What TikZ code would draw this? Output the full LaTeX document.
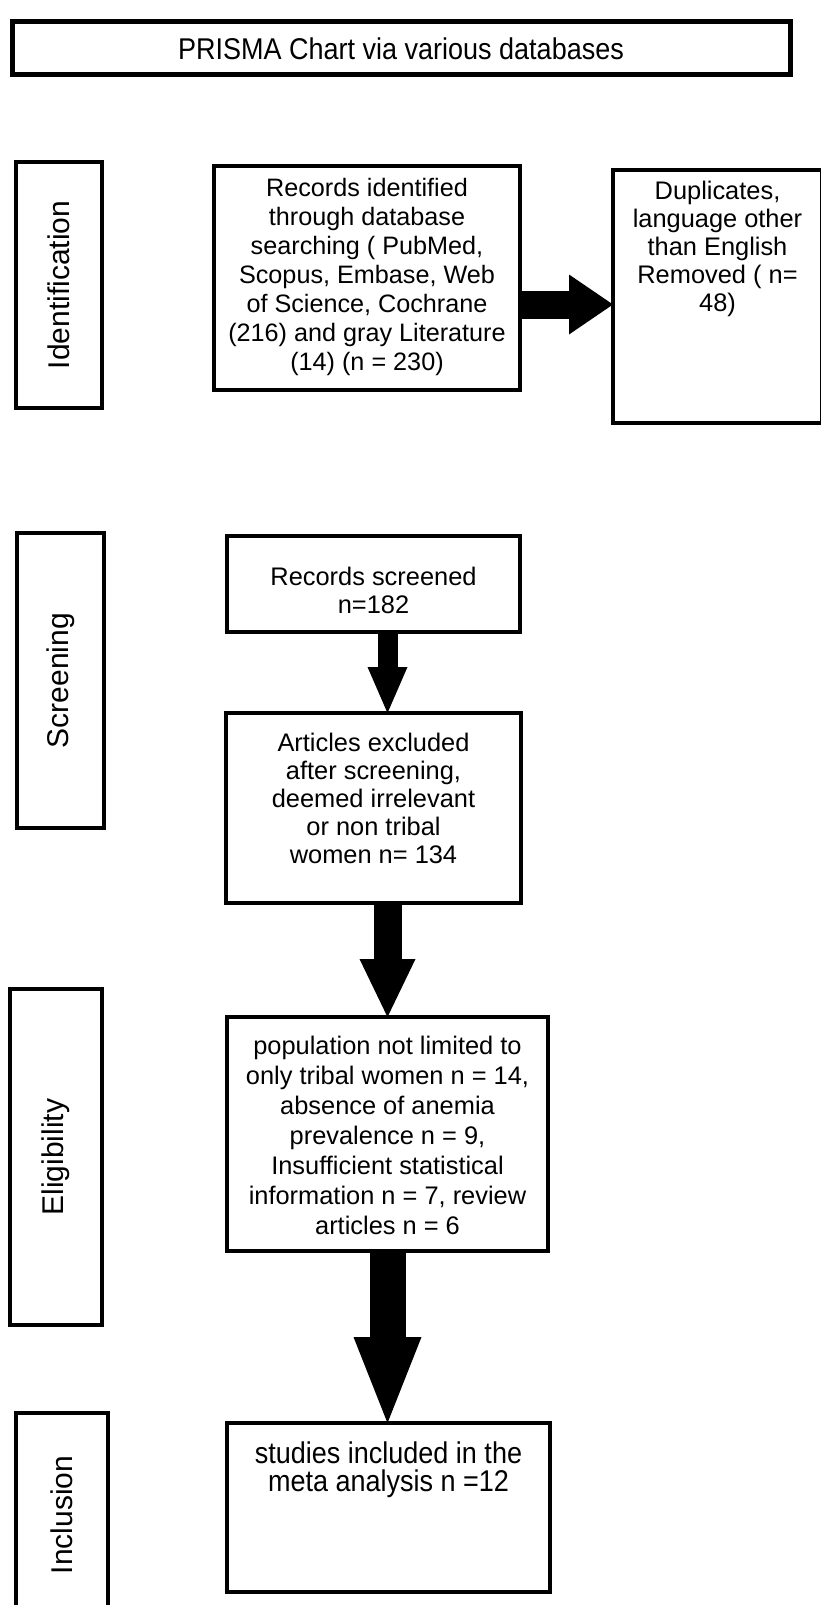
\documentclass[tikz,border=0pt]{standalone}
\usepackage{fontspec}
\setmainfont{Liberation Sans}
\newfontfamily\narrowfont[FakeStretch=0.9]{Liberation Sans}
\usetikzlibrary{arrows.meta,positioning}

\begin{document}
\begin{tikzpicture}[
  x=0.5pt, y=-0.5pt,
  every node/.style={font=\fontsize{12.7}{14}\selectfont},
  box/.style={draw=black, line width=2pt, outer sep=0pt, inner sep=0pt},
  phase/.style={draw=black, line width=2pt, outer sep=0pt, inner sep=0pt, rotate=90, font=\fontsize{15}{18}\selectfont},
  txt/.style={align=center, inner sep=0pt},
  blockarr/.style n args={3}{line width=#1, -{Triangle[width=#2, length=#3, line width=0pt]}}
]
\useasboundingbox (0,0) rectangle (820,1605);

% title
\node[box, line width=2.5pt, minimum width=389pt, minimum height=26.5pt, font=\narrowfont\fontsize{15}{18}\selectfont] (title) at (401,48.5) {PRISMA Chart via various databases};

% phases on the left
\node[phase, minimum width=123pt, minimum height=43pt] (ident) at (59,285) {Identification};
\node[phase, minimum width=147.5pt, minimum height=43.5pt] (screen) at (60.5,680.5) {Screening};
\node[phase, minimum width=168pt, minimum height=46pt] (elig) at (56,1157) {Eligibility};
\node[phase, minimum width=102pt, minimum height=46pt] (incl) at (62,1515) {Inclusion};

% boxes
\node[box, minimum width=153pt, minimum height=112pt] (recid) at (367,278) {};
\node[box, minimum width=104.5pt, minimum height=126.5pt] (dup) at (717.5,296.5) {};
\node[box, minimum width=146.5pt, minimum height=48pt] (screened) at (373.5,584) {};
\node[box, minimum width=147.5pt, minimum height=95pt] (articles) at (373.5,808) {};
\node[box, minimum width=160.5pt, minimum height=117pt] (popul) at (387.5,1134) {};
\node[box, minimum width=161.5pt, minimum height=84.5pt] (included) at (388.5,1507.5) {};

% texts
\node[txt, below=5.7pt of recid.north, font=\fontsize{12.6}{14.5}\selectfont] (recid-t) {Records identified\\through database\\searching ( PubMed,\\Scopus, Embase, Web\\of Science, Cochrane\\(216) and gray Literature\\(14) (n = 230)};
\node[txt, below=5.2pt of dup.north, font=\fontsize{12.7}{14}\selectfont] (dup-t) {Duplicates,\\language other\\than English\\Removed ( n=\\48)};
\node[txt, below=15.5pt of screened.north] (screened-t) {Records screened\\n=182};
\node[txt, below=9.7pt of articles.north] (articles-t) {Articles excluded\\after screening,\\deemed irrelevant\\or non tribal\\women n= 134};
\node[txt, below=9.2pt of popul.north, font=\fontsize{12.7}{15}\selectfont] (popul-t) {population not limited to\\only tribal women n = 14,\\absence of anemia\\prevalence n = 9,\\Insufficient statistical\\information n = 7, review\\articles n = 6};
\node[txt, below=9pt of included.north, font=\narrowfont\fontsize{15}{14.2}\selectfont] (included-t) {studies included in the\\meta analysis n =12};

% arrows
\draw[blockarr={14pt}{30pt}{22pt}] ([yshift=-4pt]recid.east |- dup.west) -- ([yshift=-4pt]dup.west);
\draw[blockarr={10pt}{20pt}{23pt}] ([xshift=7pt]screened.south) -- ([xshift=7pt]screened.south |- articles.north);
\draw[blockarr={14pt}{28pt}{29pt}] ([xshift=7pt]articles.south) -- ([xshift=7pt]articles.south |- popul.north);
\draw[blockarr={18pt}{34pt}{43pt}] (popul.south) -- (popul.south |- included.north);
\end{tikzpicture}
\end{document}
